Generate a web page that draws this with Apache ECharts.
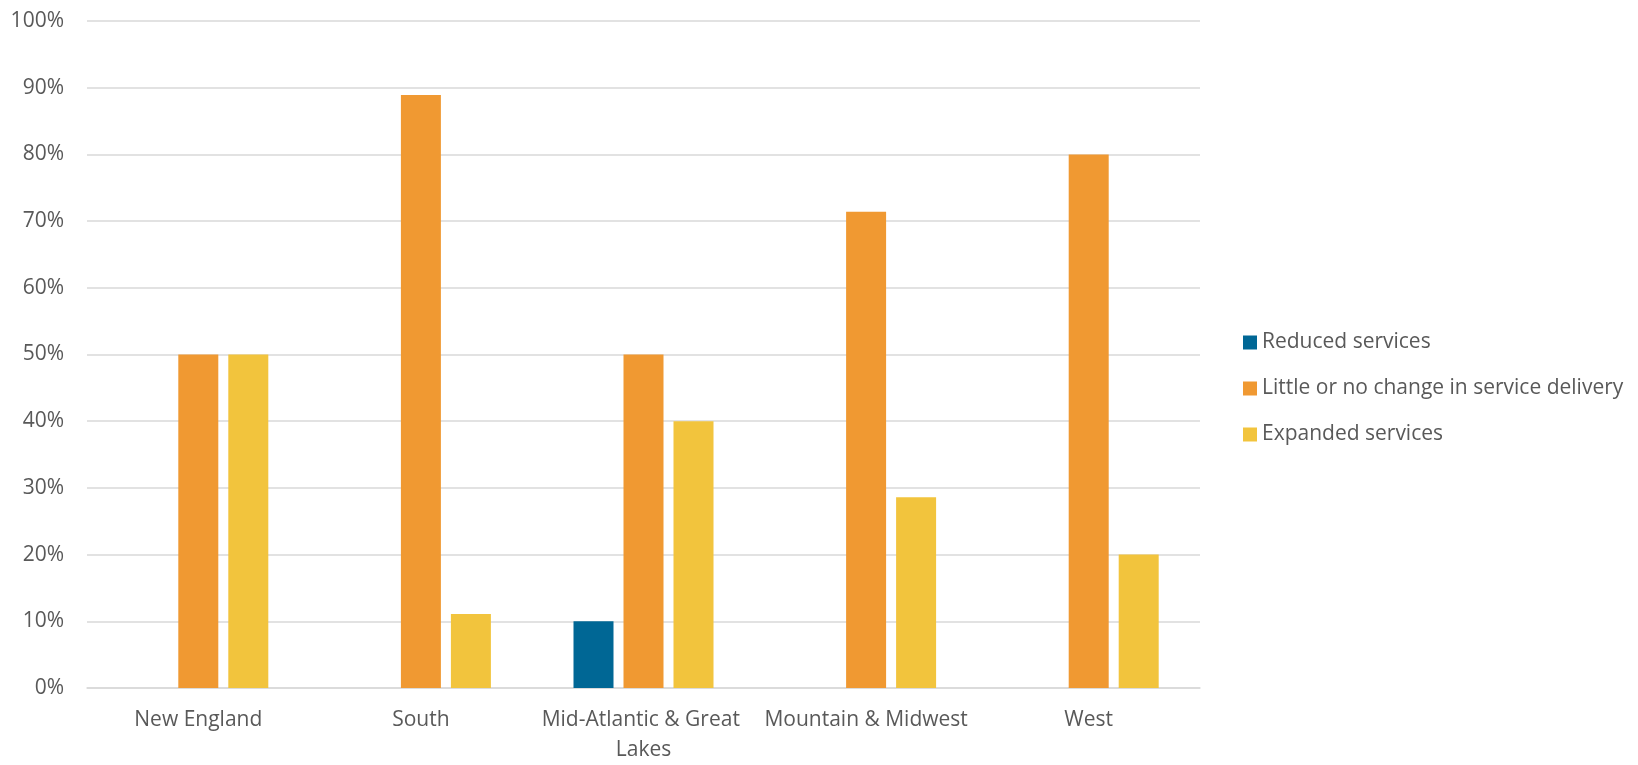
<!DOCTYPE html>
<html>
<head>
<meta charset="utf-8">
<script src="https://cdn.jsdelivr.net/npm/echarts@6/dist/echarts.min.js"></script>
<style>
  html, body { margin: 0; padding: 0; background: #ffffff; }
  #chart { width: 1638px; height: 765px; }
</style>
</head>
<body>
<div id="chart"></div>
<script>
// Regions surveyed
const regions = ['New England', 'South', 'Mid-Atlantic & Great Lakes', 'Mountain & Midwest', 'West'];

// Share of respondents in each region, as percentages
const reducedServices = [0, 0, 10, 0, 0];
const littleOrNoChange = [50, 88.9, 50, 71.4, 80];
const expandedServices = [50, 11.1, 40, 28.6, 20];

// Y-axis tick range
const yMin = 0, yMax = 100, yStep = 10;

const textColor = '#595959';
const gridColor = '#D9D9D9';
const font = '"Open Sans", "Noto Sans", sans-serif';

const chart = echarts.init(document.getElementById('chart'));

function barSeries(name, data, color) {
  return {
    name: name,
    type: 'bar',
    data: data,
    barWidth: 40,
    barGap: '25%',
    itemStyle: { color: color },
    emphasis: { disabled: true }
  };
}

chart.setOption({
  animation: false,
  textStyle: { fontFamily: font },
  grid: { left: 87, right: 438, top: 21, bottom: 74, containLabel: false },
  legend: {
    orient: 'vertical',
    left: 1238,
    top: 327,
    icon: 'rect',
    itemWidth: 14,
    itemHeight: 14,
    itemGap: 25,
    textStyle: { color: textColor, fontSize: 21, lineHeight: 21, fontFamily: font },
    data: ['Reduced services', 'Little or no change in service delivery', 'Expanded services']
  },
  xAxis: {
    type: 'category',
    data: regions,
    axisLine: { lineStyle: { color: gridColor, width: 1.5 } },
    axisTick: { show: false },
    axisLabel: {
      interval: 0,
      color: textColor,
      fontSize: 21,
      lineHeight: 30,
      margin: 17,
      width: 218,
      overflow: 'break',
      fontFamily: font
    }
  },
  yAxis: {
    type: 'value',
    min: yMin,
    max: yMax,
    interval: yStep,
    axisLine: { show: false },
    axisTick: { show: false },
    splitLine: { lineStyle: { color: gridColor, width: 1.5 } },
    axisLabel: {
      color: textColor,
      fontSize: 21,
      margin: 23,
      fontFamily: font,
      formatter: v => v + '%'
    }
  },
  series: [
    barSeries('Reduced services', reducedServices, '#006795'),
    barSeries('Little or no change in service delivery', littleOrNoChange, '#F09932'),
    barSeries('Expanded services', expandedServices, '#F2C43D')
  ]
});
</script>
</body>
</html>
